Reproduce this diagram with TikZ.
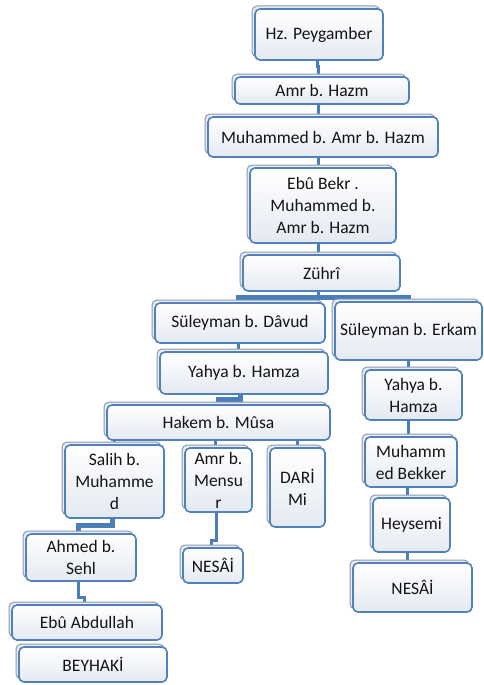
\documentclass[tikz,border=0pt]{standalone}
\usepackage{fontspec}
\setmainfont{Carlito}
\usetikzlibrary{shadows}
\pgfdeclarelayer{background}
\pgfsetlayers{background,main}
\definecolor{boxblue}{HTML}{4F81BD}
\definecolor{connblue}{HTML}{4A7EBB}
\definecolor{shadowedge}{HTML}{8C9AB0}
\definecolor{shadowfill}{HTML}{E8ECF2}
\definecolor{fillbottom}{HTML}{E4E9F1}
\definecolor{txt}{HTML}{141414}
\tikzset{
  bx/.style={draw=boxblue, line width=1.6pt, rounded corners=5pt,
    top color=white, bottom color=fillbottom, text=txt, align=center,
    inner sep=0pt, font=\fontsize{17.5}{22}\selectfont,
    copy shadow={shadow xshift=-3pt, shadow yshift=3pt, draw=shadowedge, fill=shadowfill, line width=1pt}},
  conn/.style={draw=connblue, line width=3pt},
  wideconn/.style={draw=connblue, line width=5pt},
}
\newcommand\bx[6]{\node[bx, minimum width={(#4-#2)*1pt}, minimum height={(#5-#3)*1pt}] (#1) at ({(#2+#4)/2},{(#3+#5)/2}) {#6};}
\begin{document}
\begin{tikzpicture}[x=1pt,y=-1pt]
\useasboundingbox (0,0) rectangle (483,685);
% boxes
\bx{p}{255}{9}{383}{60}{Hz. Peygamber}
\bx{a}{235}{77}{409}{104}{Amr b. Hazm}
\bx{m}{208}{117}{438}{157}{Muhammed b. Amr b. Hazm}
\bx{e}{250}{168}{396}{243}{Ebû Bekr .\\Muhammed b.\\Amr b. Hazm}
\bx{z}{243}{255}{400}{291}{Zührî}
\bx{sd}{155}{303}{325}{343}{Süleyman b. Dâvud}
\bx{se}{335}{302}{482}{360}{Süleyman b. Erkam}
\bx{yl}{160}{352}{328}{394}{Yahya b. Hamza}
\bx{h}{107}{405}{330}{440}{Hakem b. Mûsa}
\bx{sa}{65}{445}{164}{518}{Salih b.\\Muhamme\\d}
\bx{am}{185}{448}{252}{512}{Amr b.\\Mensu\\r}
\bx{da}{270}{448}{325}{527}{DARİ\\Mi}
\bx{yr}{365}{370}{462}{420}{Yahya b.\\Hamza}
\bx{mb}{365}{437}{457}{487}{Muhamm\\ed Bekker}
\bx{hy}{373}{498}{450}{552}{Heysemi}
\bx{nr}{353}{563}{472}{612}{NESÂİ}
\bx{nm}{183}{548}{243}{583}{NESÂİ}
\bx{ah}{26}{534}{136}{581}{Ahmed b.\\Sehl}
\bx{eb}{12}{605}{162}{640}{Ebû Abdullah}
\bx{be}{19}{647}{167}{682}{BEYHAKİ}
% connectors behind the boxes
\begin{pgfonlayer}{background}
\draw[conn] ([xshift=-2pt]p.south) -- ++(0,6) -| ([xshift=-4pt]a.north);
\draw[conn] ([xshift=-4pt]a.south) -- ([xshift=-4pt]a.south |- m.north);
\draw[conn] ([xshift=-5pt]m.south) -- ([xshift=-5pt]m.south |- e.north);
\draw[conn] ([xshift=-5pt]e.south) -- ([xshift=-5pt]e.south |- z.north);
\draw[conn] ([xshift=-3.5pt]z.south) -- ++(0,6) coordinate (zb);
\draw[wideconn] ([xshift=-2pt]sd.north) |- (zb) -| (se.north);
\draw[conn] ([xshift=-2pt]sd.south) -- ([xshift=-2pt]sd.south |- yl.north);
\draw[wideconn] ([xshift=-4pt]yl.south) -- ++(0,5) -| (h.north);
\draw[conn] (h.south -| sa.north) -- (sa.north);
\draw[conn] ([xshift=-3pt]h.south -| am.north) -- ([xshift=-3pt]am.north);
\draw[conn] (h.south -| da.north) -- (da.north);
\draw[wideconn] ([xshift=-2pt]sa.south) -- ++(0,7) -| ([xshift=-3pt]ah.north);
\draw[conn] ([xshift=-3pt]ah.south) -- ++(0,16) -| ([xshift=-3pt]eb.north);
\draw[conn] ([xshift=-2pt]am.south) -- ++(0,28) -| ([xshift=-2pt]nm.north);
\draw[conn] (se.south) -- ++(0,5) -| ([xshift=-5pt]yr.north);
\draw[conn] ([xshift=-5pt]yr.south) -- ([xshift=-5pt]yr.south |- mb.north);
\draw[conn] ([xshift=-4pt]mb.south) -- ([xshift=-4pt]mb.south |- hy.north);
\draw[conn] ([xshift=-4pt]hy.south) -- ([xshift=-4pt]hy.south |- nr.north);
\end{pgfonlayer}
\end{tikzpicture}
\end{document}
